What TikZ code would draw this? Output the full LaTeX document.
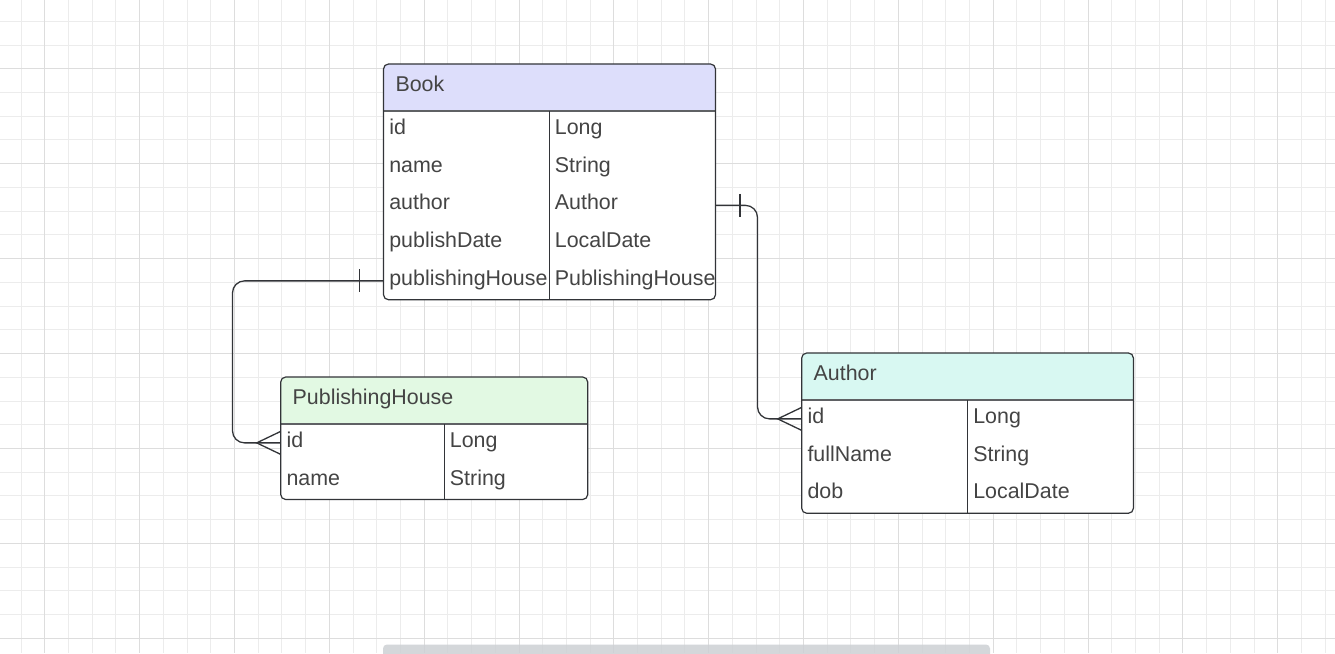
\documentclass[tikz,border=0pt]{standalone}
\usepackage{fontspec}
\setmainfont{Liberation Sans}
\usetikzlibrary{calc}
\definecolor{gridminor}{RGB}{236,236,236}
\definecolor{gridmajor}{RGB}{221,221,221}
\definecolor{txt}{RGB}{68,68,68}
\definecolor{edge}{RGB}{50,52,56}
\definecolor{sepc}{RGB}{95,97,100}
\definecolor{bookhd}{RGB}{221,222,251}
\definecolor{phhd}{RGB}{226,249,227}
\definecolor{authhd}{RGB}{216,248,242}
\definecolor{scrollc}{RGB}{205,208,212}

\tikzset{
 tablebox/.style={draw=none, inner sep=0pt, outer sep=0pt, anchor=north west},
 cell/.style={inner sep=0pt, outer sep=0pt, anchor=west, text height=13.5pt, text depth=4.7pt, text=txt, font=\fontsize{21.4}{25}\selectfont},
 conn/.style={draw=edge, line width=1.3pt},
 minorline/.style={draw=gridminor, line width=1pt},
 majorline/.style={draw=gridmajor, line width=1pt},
}

% name, x, y, width, divider, colour, title, nrows, rows
\newcommand\ertable[9]{%
 \pgfmathsetmacro\erh{47+#8*37.75}
 \node[tablebox, minimum width=#4pt, minimum height=\erh pt] (#1) at (#2,#3) {};
 \fill[white, rounded corners=5pt] (#1.north west) rectangle (#1.south east);
 \begin{scope}
  \clip[rounded corners=5pt] (#1.north west) rectangle (#1.south east);
  \fill[#6] (#1.north west) rectangle ([yshift=-47pt]#1.north east);
 \end{scope}
 \node[tablebox, minimum width=#4pt, minimum height=47pt] (#1-h) at (#2,#3) {};
 \node[cell] (#1-title) at ([xshift=12pt,yshift=0.7pt]#1-h.west) {#7};
 \foreach \fd/\ty [count=\i] in {#9} {
   \pgfmathsetmacro\ery{#3+47+(\i-1)*37.75}
   \node[tablebox, minimum width=#4pt, minimum height=37.75pt] (#1-r\i) at (#2,\ery) {};
   \node[cell] (#1-f\i) at ([xshift=5.8pt]#1-r\i.west) {\fd};
   \node[cell] (#1-t\i) at ([xshift=#5pt+5.6pt]#1-r\i.west) {\ty};
 }
 \draw[sepc, line width=1.6pt] (#1-h.south west) -- (#1-h.south east);
 \draw[edge, line width=1pt] ([xshift=#5pt]#1-h.south west) -- ([xshift=#5pt]#1.south west);
 \draw[edge, line width=1.2pt, rounded corners=5pt] (#1.north west) rectangle (#1.south east);
}

\begin{document}
\begin{tikzpicture}[x=1pt,y=-1pt]
\useasboundingbox (0,0) rectangle (1335,653);
\clip (0,0) rectangle (1335,653);
\fill[white] (0,0) rectangle (1335,653);
% grid
\foreach \k in {0,...,55} {
  \pgfmathsetmacro\gx{round(20.6+23.71*\k)+0.5}
  \draw[minorline] (\gx,0) -- (\gx,653);
}
\foreach \k in {0,...,26} {
  \pgfmathsetmacro\gy{round(20.84+23.73*\k)+0.5}
  \draw[minorline] (0,\gy) -- (1335,\gy);
}
\foreach \k in {1,5,...,53} {
  \pgfmathsetmacro\gx{round(20.6+23.71*\k)+0.5}
  \draw[majorline] (\gx,0) -- (\gx,653);
}
\foreach \k in {2,6,...,26} {
  \pgfmathsetmacro\gy{round(20.84+23.73*\k)+0.5}
  \draw[majorline] (0,\gy) -- (1335,\gy);
}
% scrollbar
\fill[scrollc, opacity=0.85, rounded corners=4pt] (383,644.5) rectangle (990,662);

% tables
\ertable{book}{383.5}{64}{332}{165.8}{bookhd}{Book}{5}{id/Long, name/String, author/Author, publishDate/LocalDate, publishingHouse/PublishingHouse}
\ertable{ph}{280.7}{377}{307}{163.6}{phhd}{PublishingHouse}{2}{id/Long, name/String}
\ertable{author}{801.7}{353}{331.7}{166}{authhd}{Author}{3}{id/Long, fullName/String, dob/LocalDate}

% connector Book.author -> Author.id
\draw[conn, rounded corners=12pt] (book-r3.east) -- ++(42,0) |- (author-r1.west);
\draw[conn] ([xshift=24.5pt,yshift=11.5pt]book-r3.east) -- ([xshift=24.5pt,yshift=-11.5pt]book-r3.east);
\draw[conn] ([yshift=11.5pt]author-r1.west) -- ([xshift=-24pt]author-r1.west) -- ([yshift=-11.5pt]author-r1.west);

% connector Book.publishingHouse -> PublishingHouse.id
\draw[conn, rounded corners=12pt] (book-r5.west) -- ++(-151,0) |- (ph-r1.west);
\draw[conn] ([xshift=-24.2pt,yshift=11.5pt]book-r5.west) -- ([xshift=-24.2pt,yshift=-11.5pt]book-r5.west);
\draw[conn] ([yshift=11.5pt]ph-r1.west) -- ([xshift=-24pt]ph-r1.west) -- ([yshift=-11.5pt]ph-r1.west);
\end{tikzpicture}
\end{document}
